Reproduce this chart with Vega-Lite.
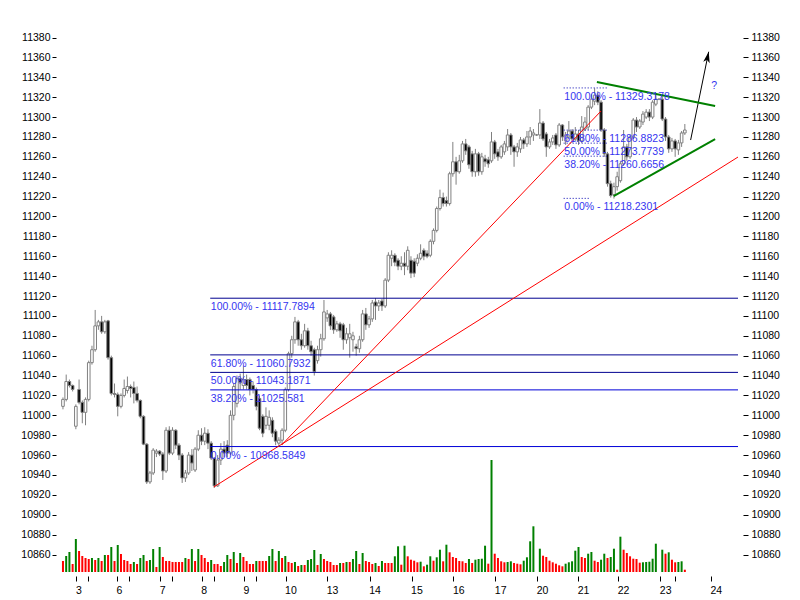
{
  "$schema": "https://vega.github.io/schema/vega-lite/v6.json",
  "width": 687,
  "height": 562,
  "autosize": {"type": "none"},
  "padding": {"left": 56, "top": 10, "right": 57, "bottom": 28},
  "background": "#ffffff",
  "config": {"view": {"stroke": null}},
  "datasets": {
    "candles": [
      {"i":0,"o":11009,"h":11018,"l":11006,"c":11016,"v":110},
      {"i":1,"o":11016,"h":11041,"l":11014,"c":11034,"v":160},
      {"i":2,"o":11034,"h":11036,"l":11028,"c":11030,"v":200},
      {"i":3,"o":11030,"h":11031,"l":11024,"c":11026,"v":80},
      {"i":4,"o":10989,"h":11011,"l":10986,"c":11009,"v":330},
      {"i":5,"o":11026,"h":11036,"l":11011,"c":11013,"v":210},
      {"i":6,"o":11013,"h":11015,"l":10992,"c":11003,"v":160},
      {"i":7,"o":11003,"h":11018,"l":10990,"c":11016,"v":140},
      {"i":8,"o":11016,"h":11055,"l":11014,"c":11053,"v":130},
      {"i":9,"o":11053,"h":11070,"l":11051,"c":11066,"v":140},
      {"i":10,"o":11066,"h":11106,"l":11064,"c":11090,"v":120},
      {"i":11,"o":11090,"h":11096,"l":11086,"c":11094,"v":140},
      {"i":12,"o":11094,"h":11100,"l":11082,"c":11084,"v":110},
      {"i":13,"o":11084,"h":11096,"l":11082,"c":11094,"v":170},
      {"i":14,"o":11095,"h":11096,"l":11056,"c":11058,"v":170},
      {"i":15,"o":11058,"h":11060,"l":11020,"c":11022,"v":250},
      {"i":16,"o":11022,"h":11032,"l":11018,"c":11021,"v":110},
      {"i":17,"o":11021,"h":11023,"l":10999,"c":11009,"v":270},
      {"i":18,"o":11009,"h":11022,"l":11007,"c":11020,"v":180},
      {"i":19,"o":11020,"h":11036,"l":11018,"c":11027,"v":120},
      {"i":20,"o":11025,"h":11039,"l":11022,"c":11029,"v":110},
      {"i":21,"o":11029,"h":11031,"l":11018,"c":11027,"v":80},
      {"i":22,"o":11028,"h":11034,"l":11012,"c":11022,"v":100},
      {"i":23,"o":11022,"h":11029,"l":11013,"c":11015,"v":80},
      {"i":24,"o":11015,"h":11016,"l":10997,"c":10999,"v":140},
      {"i":25,"o":10999,"h":11000,"l":10970,"c":10971,"v":170},
      {"i":26,"o":10971,"h":10972,"l":10931,"c":10933,"v":110},
      {"i":27,"o":10933,"h":10944,"l":10931,"c":10942,"v":120},
      {"i":28,"o":10942,"h":10967,"l":10940,"c":10965,"v":230},
      {"i":29,"o":10962,"h":10966,"l":10958,"c":10964,"v":50},
      {"i":30,"o":10964,"h":10965,"l":10959,"c":10961,"v":250},
      {"i":31,"o":10961,"h":10963,"l":10935,"c":10944,"v":150},
      {"i":32,"o":10944,"h":10988,"l":10942,"c":10985,"v":110},
      {"i":33,"o":10985,"h":10989,"l":10960,"c":10962,"v":110},
      {"i":34,"o":10962,"h":10988,"l":10960,"c":10985,"v":100},
      {"i":35,"o":10985,"h":10986,"l":10966,"c":10970,"v":100},
      {"i":36,"o":10970,"h":10972,"l":10955,"c":10960,"v":100},
      {"i":37,"o":10960,"h":10962,"l":10932,"c":10937,"v":100},
      {"i":38,"o":10937,"h":10945,"l":10933,"c":10942,"v":140},
      {"i":39,"o":10942,"h":10963,"l":10940,"c":10960,"v":130},
      {"i":40,"o":10960,"h":10966,"l":10944,"c":10952,"v":230},
      {"i":41,"o":10945,"h":10968,"l":10943,"c":10966,"v":110},
      {"i":42,"o":10966,"h":10985,"l":10964,"c":10980,"v":230},
      {"i":43,"o":10980,"h":10987,"l":10970,"c":10974,"v":170},
      {"i":44,"o":10974,"h":10988,"l":10970,"c":10982,"v":140},
      {"i":45,"o":10982,"h":10986,"l":10966,"c":10972,"v":100},
      {"i":46,"o":10972,"h":10974,"l":10955,"c":10957,"v":120},
      {"i":47,"o":10957,"h":10958,"l":10927,"c":10929,"v":80},
      {"i":48,"o":10929,"h":10960,"l":10928,"c":10955,"v":80},
      {"i":49,"o":10955,"h":10972,"l":10950,"c":10966,"v":60},
      {"i":50,"o":10966,"h":10974,"l":10958,"c":10962,"v":100},
      {"i":51,"o":10970,"h":10975,"l":10958,"c":10962,"v":170},
      {"i":52,"o":10962,"h":11005,"l":10960,"c":11000,"v":130},
      {"i":53,"o":11000,"h":11032,"l":10995,"c":11029,"v":200},
      {"i":54,"o":11012,"h":11040,"l":11008,"c":11037,"v":90},
      {"i":55,"o":11037,"h":11042,"l":11026,"c":11033,"v":190},
      {"i":56,"o":11030,"h":11050,"l":11026,"c":11036,"v":150},
      {"i":57,"o":11036,"h":11041,"l":11026,"c":11030,"v":110},
      {"i":58,"o":11036,"h":11038,"l":11020,"c":11026,"v":80},
      {"i":59,"o":11030,"h":11034,"l":11022,"c":11026,"v":80},
      {"i":60,"o":11026,"h":11028,"l":11005,"c":11009,"v":110},
      {"i":61,"o":11017,"h":11020,"l":10985,"c":10987,"v":110},
      {"i":62,"o":10999,"h":11001,"l":10978,"c":10982,"v":110},
      {"i":63,"o":10990,"h":11008,"l":10986,"c":10999,"v":110},
      {"i":64,"o":10990,"h":11005,"l":10985,"c":10998,"v":160},
      {"i":65,"o":10995,"h":10998,"l":10978,"c":10982,"v":230},
      {"i":66,"o":10984,"h":10986,"l":10970,"c":10974,"v":110},
      {"i":67,"o":10972,"h":10978,"l":10969,"c":10975,"v":210},
      {"i":68,"o":10975,"h":10987,"l":10970,"c":10985,"v":140},
      {"i":69,"o":10985,"h":11028,"l":10983,"c":11026,"v":160},
      {"i":70,"o":11026,"h":11064,"l":11024,"c":11062,"v":100},
      {"i":71,"o":11062,"h":11080,"l":11058,"c":11076,"v":90},
      {"i":72,"o":11076,"h":11099,"l":11072,"c":11094,"v":100},
      {"i":73,"o":11094,"h":11096,"l":11070,"c":11076,"v":60},
      {"i":74,"o":11076,"h":11082,"l":11066,"c":11070,"v":70},
      {"i":75,"o":11070,"h":11092,"l":11068,"c":11085,"v":70},
      {"i":76,"o":11085,"h":11088,"l":11066,"c":11070,"v":120},
      {"i":77,"o":11070,"h":11075,"l":11060,"c":11064,"v":130},
      {"i":78,"o":11066,"h":11068,"l":11040,"c":11044,"v":220},
      {"i":79,"o":11055,"h":11070,"l":11052,"c":11066,"v":70},
      {"i":80,"o":11066,"h":11082,"l":11059,"c":11077,"v":180},
      {"i":81,"o":11077,"h":11116,"l":11075,"c":11104,"v":130},
      {"i":82,"o":11098,"h":11106,"l":11094,"c":11102,"v":110},
      {"i":83,"o":11102,"h":11104,"l":11086,"c":11090,"v":100},
      {"i":84,"o":11099,"h":11101,"l":11082,"c":11086,"v":70},
      {"i":85,"o":11086,"h":11095,"l":11084,"c":11092,"v":70},
      {"i":86,"o":11092,"h":11094,"l":11078,"c":11085,"v":90},
      {"i":87,"o":11091,"h":11093,"l":11066,"c":11076,"v":90},
      {"i":88,"o":11076,"h":11088,"l":11072,"c":11082,"v":100},
      {"i":89,"o":11078,"h":11092,"l":11058,"c":11082,"v":100},
      {"i":90,"o":11076,"h":11084,"l":11064,"c":11080,"v":130},
      {"i":91,"o":11069,"h":11072,"l":11060,"c":11067,"v":210},
      {"i":92,"o":11067,"h":11080,"l":11063,"c":11076,"v":80},
      {"i":93,"o":11076,"h":11106,"l":11074,"c":11102,"v":190},
      {"i":94,"o":11102,"h":11108,"l":11086,"c":11091,"v":110},
      {"i":95,"o":11091,"h":11100,"l":11088,"c":11097,"v":100},
      {"i":96,"o":11097,"h":11116,"l":11094,"c":11113,"v":80},
      {"i":97,"o":11114,"h":11118,"l":11096,"c":11110,"v":90},
      {"i":98,"o":11110,"h":11116,"l":11105,"c":11113,"v":60},
      {"i":99,"o":11115,"h":11117,"l":11105,"c":11110,"v":110},
      {"i":100,"o":11110,"h":11138,"l":11108,"c":11136,"v":90},
      {"i":101,"o":11136,"h":11164,"l":11134,"c":11161,"v":90},
      {"i":102,"o":11158,"h":11166,"l":11150,"c":11161,"v":90},
      {"i":103,"o":11161,"h":11163,"l":11150,"c":11154,"v":157},
      {"i":104,"o":11156,"h":11158,"l":11146,"c":11150,"v":257},
      {"i":105,"o":11150,"h":11160,"l":11146,"c":11153,"v":73},
      {"i":106,"o":11153,"h":11164,"l":11141,"c":11150,"v":263},
      {"i":107,"o":11150,"h":11170,"l":11146,"c":11166,"v":157},
      {"i":108,"o":11156,"h":11160,"l":11138,"c":11143,"v":123},
      {"i":109,"o":11155,"h":11158,"l":11139,"c":11143,"v":113},
      {"i":110,"o":11153,"h":11162,"l":11150,"c":11158,"v":97},
      {"i":111,"o":11158,"h":11172,"l":11156,"c":11163,"v":103},
      {"i":112,"o":11166,"h":11168,"l":11156,"c":11160,"v":57},
      {"i":113,"o":11163,"h":11166,"l":11158,"c":11160,"v":73},
      {"i":114,"o":11161,"h":11177,"l":11159,"c":11175,"v":157},
      {"i":115,"o":11175,"h":11188,"l":11172,"c":11186,"v":113},
      {"i":116,"o":11186,"h":11210,"l":11184,"c":11208,"v":147},
      {"i":117,"o":11208,"h":11227,"l":11206,"c":11219,"v":223},
      {"i":118,"o":11219,"h":11224,"l":11210,"c":11213,"v":107},
      {"i":119,"o":11216,"h":11220,"l":11210,"c":11213,"v":273},
      {"i":120,"o":11213,"h":11245,"l":11211,"c":11243,"v":197},
      {"i":121,"o":11243,"h":11275,"l":11240,"c":11255,"v":150},
      {"i":122,"o":11255,"h":11260,"l":11232,"c":11245,"v":140},
      {"i":123,"o":11245,"h":11262,"l":11243,"c":11256,"v":110},
      {"i":124,"o":11256,"h":11276,"l":11254,"c":11273,"v":107},
      {"i":125,"o":11273,"h":11278,"l":11262,"c":11266,"v":90},
      {"i":126,"o":11270,"h":11272,"l":11248,"c":11252,"v":130},
      {"i":127,"o":11263,"h":11266,"l":11240,"c":11245,"v":90},
      {"i":128,"o":11245,"h":11268,"l":11240,"c":11263,"v":123},
      {"i":129,"o":11263,"h":11265,"l":11241,"c":11245,"v":130},
      {"i":130,"o":11245,"h":11264,"l":11242,"c":11260,"v":133},
      {"i":131,"o":11258,"h":11262,"l":11250,"c":11255,"v":263},
      {"i":132,"o":11257,"h":11260,"l":11249,"c":11253,"v":83},
      {"i":133,"o":11256,"h":11285,"l":11254,"c":11275,"v":1120},
      {"i":134,"o":11275,"h":11277,"l":11258,"c":11263,"v":183},
      {"i":135,"o":11265,"h":11268,"l":11256,"c":11260,"v":140},
      {"i":136,"o":11260,"h":11272,"l":11258,"c":11270,"v":107},
      {"i":137,"o":11265,"h":11276,"l":11262,"c":11273,"v":97},
      {"i":138,"o":11270,"h":11288,"l":11266,"c":11282,"v":100},
      {"i":139,"o":11282,"h":11284,"l":11262,"c":11270,"v":107},
      {"i":140,"o":11270,"h":11272,"l":11250,"c":11265,"v":90},
      {"i":141,"o":11265,"h":11274,"l":11260,"c":11270,"v":83},
      {"i":142,"o":11268,"h":11280,"l":11264,"c":11277,"v":77},
      {"i":143,"o":11277,"h":11279,"l":11268,"c":11273,"v":113},
      {"i":144,"o":11273,"h":11286,"l":11270,"c":11280,"v":147},
      {"i":145,"o":11280,"h":11290,"l":11272,"c":11286,"v":307},
      {"i":146,"o":11282,"h":11288,"l":11276,"c":11284,"v":457},
      {"i":147,"o":11282,"h":11283,"l":11281,"c":11282,"v":0},
      {"i":148,"o":11282,"h":11308,"l":11278,"c":11294,"v":233},
      {"i":149,"o":11294,"h":11296,"l":11276,"c":11278,"v":163},
      {"i":150,"o":11283,"h":11285,"l":11260,"c":11270,"v":150},
      {"i":151,"o":11270,"h":11278,"l":11268,"c":11275,"v":113},
      {"i":152,"o":11275,"h":11282,"l":11272,"c":11279,"v":97},
      {"i":153,"o":11282,"h":11284,"l":11268,"c":11272,"v":83},
      {"i":154,"o":11272,"h":11294,"l":11270,"c":11292,"v":67},
      {"i":155,"o":11292,"h":11293,"l":11276,"c":11280,"v":57},
      {"i":156,"o":11276,"h":11285,"l":11272,"c":11282,"v":83},
      {"i":157,"o":11280,"h":11296,"l":11278,"c":11286,"v":97},
      {"i":158,"o":11286,"h":11288,"l":11274,"c":11278,"v":107},
      {"i":159,"o":11278,"h":11290,"l":11276,"c":11283,"v":213},
      {"i":160,"o":11283,"h":11287,"l":11272,"c":11276,"v":250},
      {"i":161,"o":11276,"h":11301,"l":11274,"c":11290,"v":150},
      {"i":162,"o":11288,"h":11300,"l":11286,"c":11295,"v":140},
      {"i":163,"o":11290,"h":11312,"l":11287,"c":11310,"v":183},
      {"i":164,"o":11310,"h":11323,"l":11308,"c":11318,"v":200},
      {"i":165,"o":11316,"h":11329,"l":11312,"c":11322,"v":113},
      {"i":166,"o":11322,"h":11326,"l":11312,"c":11315,"v":100},
      {"i":167,"o":11315,"h":11317,"l":11285,"c":11287,"v":123},
      {"i":168,"o":11287,"h":11289,"l":11260,"c":11263,"v":183},
      {"i":169,"o":11263,"h":11265,"l":11230,"c":11233,"v":140},
      {"i":170,"o":11233,"h":11236,"l":11219,"c":11221,"v":150},
      {"i":171,"o":11222,"h":11234,"l":11218,"c":11230,"v":233},
      {"i":172,"o":11230,"h":11245,"l":11226,"c":11240,"v":23},
      {"i":173,"o":11236,"h":11256,"l":11234,"c":11253,"v":353},
      {"i":174,"o":11253,"h":11287,"l":11251,"c":11270,"v":223},
      {"i":175,"o":11270,"h":11273,"l":11256,"c":11260,"v":190},
      {"i":176,"o":11260,"h":11282,"l":11258,"c":11280,"v":157},
      {"i":177,"o":11280,"h":11299,"l":11278,"c":11297,"v":133},
      {"i":178,"o":11297,"h":11300,"l":11285,"c":11290,"v":130},
      {"i":179,"o":11290,"h":11298,"l":11288,"c":11296,"v":93},
      {"i":180,"o":11295,"h":11306,"l":11292,"c":11303,"v":97},
      {"i":181,"o":11300,"h":11308,"l":11298,"c":11305,"v":100},
      {"i":182,"o":11305,"h":11308,"l":11296,"c":11300,"v":103},
      {"i":183,"o":11300,"h":11317,"l":11298,"c":11315,"v":133},
      {"i":184,"o":11313,"h":11323,"l":11311,"c":11318,"v":283},
      {"i":185,"o":11318,"h":11319,"l":11317,"c":11318,"v":0},
      {"i":186,"o":11318,"h":11321,"l":11296,"c":11298,"v":223},
      {"i":187,"o":11298,"h":11300,"l":11276,"c":11280,"v":183},
      {"i":188,"o":11280,"h":11282,"l":11264,"c":11268,"v":197},
      {"i":189,"o":11268,"h":11279,"l":11265,"c":11276,"v":123},
      {"i":190,"o":11276,"h":11278,"l":11260,"c":11268,"v":97},
      {"i":191,"o":11267,"h":11277,"l":11262,"c":11274,"v":100},
      {"i":192,"o":11274,"h":11286,"l":11270,"c":11284,"v":107},
      {"i":193,"o":11284,"h":11293,"l":11282,"c":11287,"v":23}
    ],
    "fib1": [
      {"t":"100.00% - 11117.7894","p":11117.7894,"a":45.7,"b":209.5,"lx":45.9},
      {"t":"61.80% - 11060.7932","p":11060.7932,"a":45.7,"b":209.5,"lx":45.9},
      {"t":"50.00% - 11043.1871","p":11043.1871,"a":45.7,"b":209.5,"lx":45.9},
      {"t":"38.20% - 11025.581","p":11025.581,"a":45.7,"b":209.5,"lx":45.9},
      {"t":"0.00% - 10968.5849","p":10968.5849,"a":45.7,"b":209.5,"lx":45.9}
    ],
    "fib2": [
      {"t":"100.00% - 11329.3178","p":11329.3178,"a":155.4,"b":168.8,"lx":155.6},
      {"t":"61.80% - 11286.8823","p":11286.8823,"a":155.4,"b":168.8,"lx":155.6},
      {"t":"50.00% - 11273.7739","p":11273.7739,"a":155.4,"b":168.8,"lx":155.6},
      {"t":"38.20% - 11260.6656","p":11260.6656,"a":155.4,"b":168.8,"lx":155.6},
      {"t":"0.00% - 11218.2301","p":11218.2301,"a":155.4,"b":163.5,"lx":155.6}
    ],
    "trends": [
      {"k":"red","a":67.9,"pa":10970.3,"b":167.0,"pb":11306.1},
      {"k":"red","a":46.8,"pa":10927.9,"b":209.5,"pb":11259.8},
      {"k":"green","a":165.7,"pa":11335.2,"b":202.4,"pb":11311.1},
      {"k":"green","a":170.9,"pa":11220.6,"b":202.4,"pb":11277.9},
      {"k":"black","a":194.8,"pa":11276.9,"b":200.4,"pb":11365.7}
    ],
    "arrowhead": [{"i":200.06,"p":11360.3}],
    "notes": [{"i":202.1,"p":11331.5,"t":"?"}]
  },
  "layer": [
    {
      "data": {"name": "candles"},
      "mark": {"type": "rule", "color": "#808080", "strokeWidth": 1},
      "encoding": {
        "x": {
          "field": "i", "type": "quantitative",
          "scale": {"domain": [-0.61, 209.5], "nice": false, "zero": false},
          "axis": {
            "title": null, "grid": false, "domain": false, "tickSize": 5, "offset": 4, "tickCount": 40,
            "tickColor": "#000000", "labelColor": "#000000",
            "labelFont": "Liberation Sans", "labelFontSize": 10.5, "labelPadding": 4,
            "labelOverlap": false, "labelFlush": false, "labelAlign": "left", "labelOffset": -1,
            "values": [4.2, 7.74, 16.8, 20.6, 30.2, 33.8, 43.1, 46.8, 56.2, 59.8, 69.1, 82, 95.2, 108.2, 121.2, 134.2, 147.2, 159.9, 172.3, 185.4, 190, 201.1],
            "labelExpr": "datum.value == 4.2 ? '3' : datum.value == 16.8 ? '6' : datum.value == 30.2 ? '7' : datum.value == 43.1 ? '8' : datum.value == 56.2 ? '9' : datum.value == 69.1 ? '10' : datum.value == 82 ? '13' : datum.value == 95.2 ? '14' : datum.value == 108.2 ? '15' : datum.value == 121.2 ? '16' : datum.value == 134.2 ? '17' : datum.value == 147.2 ? '20' : datum.value == 159.9 ? '21' : datum.value == 172.3 ? '22' : datum.value == 185.4 ? '23' : datum.value == 201.1 ? '24' : ''"
          }
        },
        "y": {
          "field": "l", "type": "quantitative",
          "scale": {"domain": [10842.4, 11407.7], "nice": false, "zero": false},
          "axis": {
            "title": null, "grid": false, "domain": false, "orient": "left", "format": "d",
            "tickSize": 4, "labelPadding": 2, "tickColor": "#000000", "labelColor": "#000000",
            "labelFont": "Liberation Sans", "labelFontSize": 10.5,
            "values": [10860,10880,10900,10920,10940,10960,10980,11000,11020,11040,11060,11080,11100,11120,11140,11160,11180,11200,11220,11240,11260,11280,11300,11320,11340,11360,11380]
          }
        },
        "y2": {"field": "h"}
      }
    },
    {
      "data": {"name": "candles"},
      "mark": {"type": "bar", "width": 2.6, "stroke": "#808080", "strokeWidth": 1},
      "encoding": {
        "x": {"field": "i", "type": "quantitative", "scale": {"domain": [-0.61, 209.5], "nice": false, "zero": false}},
        "y": {"field": "o", "type": "quantitative", "scale": {"domain": [10842.4, 11407.7], "nice": false, "zero": false}, "axis": null},
        "y2": {"field": "c"},
        "fill": {"condition": {"test": "datum.c >= datum.o", "value": "#ffffff"}, "value": "#000000"}
      }
    },
    {
      "data": {"name": "fib1"},
      "mark": {"type": "rule", "strokeWidth": 1},
      "encoding": {
        "x": {"field": "a", "type": "quantitative", "scale": {"domain": [-0.61, 209.5], "nice": false, "zero": false}},
        "x2": {"field": "b"},
        "y": {"field": "p", "type": "quantitative", "scale": {"domain": [10842.4, 11407.7], "nice": false, "zero": false}, "axis": null},
        "color": {"condition": {"test": "datum.p > 11035", "value": "#000090"}, "value": "#0000d8"}
      }
    },
    {
      "data": {"name": "fib2"},
      "mark": {"type": "rule", "strokeWidth": 1, "strokeDash": [1, 2], "color": "#0000b0"},
      "encoding": {
        "x": {"field": "a", "type": "quantitative", "scale": {"domain": [-0.61, 209.5], "nice": false, "zero": false}},
        "x2": {"field": "b"},
        "y": {"field": "p", "type": "quantitative", "scale": {"domain": [10842.4, 11407.7], "nice": false, "zero": false}, "axis": null}
      }
    },
    {
      "data": {"name": "trends"},
      "transform": [{"filter": "datum.k != 'green'"}],
      "mark": {"type": "rule", "strokeWidth": 1},
      "encoding": {
        "x": {"field": "a", "type": "quantitative", "scale": {"domain": [-0.61, 209.5], "nice": false, "zero": false}},
        "x2": {"field": "b"},
        "y": {"field": "pa", "type": "quantitative", "scale": {"domain": [10842.4, 11407.7], "nice": false, "zero": false}, "axis": null},
        "y2": {"field": "pb"},
        "color": {"field": "k", "type": "nominal", "scale": {"domain": ["red", "black"], "range": ["#ff0000", "#000000"]}, "legend": null}
      }
    },
    {
      "data": {"name": "trends"},
      "transform": [{"filter": "datum.k == 'green'"}],
      "mark": {"type": "rule", "strokeWidth": 2, "color": "#008000"},
      "encoding": {
        "x": {"field": "a", "type": "quantitative", "scale": {"domain": [-0.61, 209.5], "nice": false, "zero": false}},
        "x2": {"field": "b"},
        "y": {"field": "pa", "type": "quantitative", "scale": {"domain": [10842.4, 11407.7], "nice": false, "zero": false}, "axis": null},
        "y2": {"field": "pb"}
      }
    },
    {
      "data": {"name": "arrowhead"},
      "mark": {"type": "point", "shape": "M0,-1L0.6,1L0,0.5L-0.6,1Z", "size": 121, "angle": 12, "filled": true, "color": "#000000", "opacity": 1},
      "encoding": {
        "x": {"field": "i", "type": "quantitative", "scale": {"domain": [-0.61, 209.5], "nice": false, "zero": false}},
        "y": {"field": "p", "type": "quantitative", "scale": {"domain": [10842.4, 11407.7], "nice": false, "zero": false}, "axis": null}
      }
    },
    {
      "data": {"name": "fib1"},
      "mark": {"type": "text", "align": "left", "baseline": "top", "dy": 4, "font": "Liberation Sans", "fontSize": 10.5, "color": "#3535f0"},
      "encoding": {
        "x": {"field": "lx", "type": "quantitative", "scale": {"domain": [-0.61, 209.5], "nice": false, "zero": false}},
        "y": {"field": "p", "type": "quantitative", "scale": {"domain": [10842.4, 11407.7], "nice": false, "zero": false}, "axis": null},
        "text": {"field": "t"}
      }
    },
    {
      "data": {"name": "fib2"},
      "mark": {"type": "text", "align": "left", "baseline": "top", "dy": 4, "font": "Liberation Sans", "fontSize": 10.5, "color": "#3535f0"},
      "encoding": {
        "x": {"field": "lx", "type": "quantitative", "scale": {"domain": [-0.61, 209.5], "nice": false, "zero": false}},
        "y": {"field": "p", "type": "quantitative", "scale": {"domain": [10842.4, 11407.7], "nice": false, "zero": false}, "axis": null},
        "text": {"field": "t"}
      }
    },
    {
      "data": {"name": "notes"},
      "mark": {"type": "text", "align": "center", "baseline": "middle", "font": "Liberation Sans", "fontSize": 10.5, "color": "#3535f0"},
      "encoding": {
        "x": {"field": "i", "type": "quantitative", "scale": {"domain": [-0.61, 209.5], "nice": false, "zero": false}},
        "y": {"field": "p", "type": "quantitative", "scale": {"domain": [10842.4, 11407.7], "nice": false, "zero": false}, "axis": null},
        "text": {"field": "t"}
      }
    },
    {
      "data": {"name": "candles"},
      "mark": {"type": "point", "opacity": 0},
      "encoding": {
        "x": {"field": "i", "type": "quantitative", "scale": {"domain": [-0.61, 209.5], "nice": false, "zero": false}},
        "y": {
          "field": "c", "type": "quantitative",
          "scale": {"domain": [10842.4, 11407.7], "nice": false, "zero": false},
          "axis": {
            "title": null, "grid": false, "domain": false, "orient": "right", "format": "d",
            "tickSize": 5, "labelPadding": 3, "tickColor": "#000000", "labelColor": "#000000",
            "labelFont": "Liberation Sans", "labelFontSize": 10.5,
            "values": [10860,10880,10900,10920,10940,10960,10980,11000,11020,11040,11060,11080,11100,11120,11140,11160,11180,11200,11220,11240,11260,11280,11300,11320,11340,11360,11380]
          }
        }
      }
    },
    {
      "data": {"name": "candles"},
      "transform": [{"window": [{"op": "lag", "field": "v", "as": "pv"}], "sort": [{"field": "i"}]}],
      "mark": {"type": "bar", "width": 2},
      "encoding": {
        "x": {"field": "i", "type": "quantitative", "scale": {"domain": [-0.61, 209.5], "nice": false, "zero": false}},
        "y": {"field": "v", "type": "quantitative", "scale": {"domain": [0, 5620], "nice": false}, "axis": null},
        "color": {"condition": {"test": "datum.pv != null && datum.v > datum.pv", "value": "#008000"}, "value": "#ff0000"}
      }
    }
  ],
  "resolve": {"scale": {"y": "independent"}}
}
